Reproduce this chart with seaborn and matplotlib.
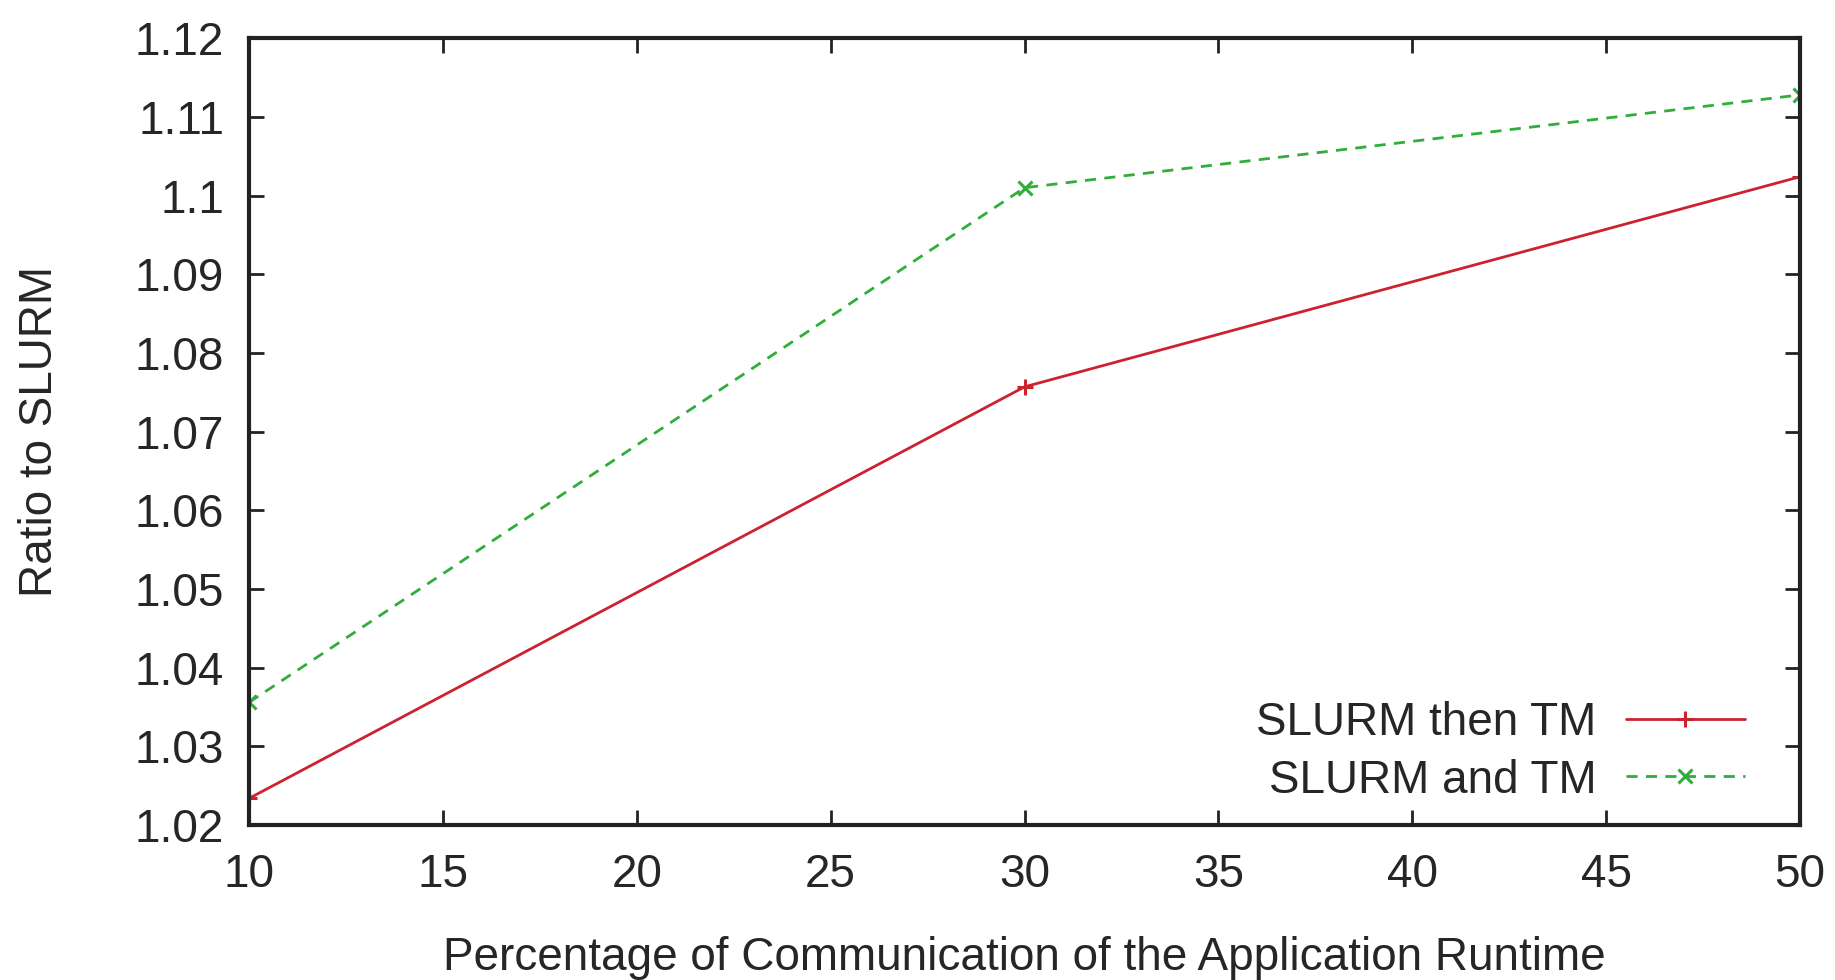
import matplotlib
matplotlib.use("Agg")
import matplotlib.pyplot as plt
import seaborn as sns
import numpy as np
import pandas as pd
from matplotlib.ticker import FuncFormatter

# Data
percent_comm = [10, 30, 50]
slurm_then_tm = [1.0234, 1.0757, 1.1024]
slurm_and_tm = [1.0356, 1.1010, 1.1128]
series_names = ["SLURM then TM", "SLURM and TM"]
x_ticks = [10, 15, 20, 25, 30, 35, 40, 45, 50]
y_ticks = [1.02, 1.03, 1.04, 1.05, 1.06, 1.07, 1.08, 1.09, 1.10, 1.11, 1.12]
x_label = "Percentage of Communication of the Application Runtime"
y_label = "Ratio to SLURM"

sns.set_style("ticks")
plt.rcParams["font.family"] = ["Liberation Sans", "DejaVu Sans"]

fig = plt.figure(figsize=(18.35, 9.8), dpi=100)
ax = fig.add_axes([0.1357, 0.158, 0.981 - 0.1357, 0.961 - 0.158])

sns.lineplot(x=percent_comm, y=slurm_then_tm, color="#cc2230", linewidth=2.0,
             marker="+", markersize=11, markeredgewidth=2.2, markeredgecolor="#cc2230",
             linestyle="-", label=series_names[0], ax=ax)
sns.lineplot(x=percent_comm, y=slurm_and_tm, color="#2fae3a", linewidth=2.0,
             marker="x", markersize=10, markeredgewidth=2.2, markeredgecolor="#2fae3a",
             linestyle=(0, (4, 3)), label=series_names[1], ax=ax)

ax.set_xlim(10, 50)
ax.set_ylim(1.02, 1.12)
ax.set_xticks(x_ticks)
ax.set_yticks(y_ticks)
ax.yaxis.set_major_formatter(FuncFormatter(lambda v, p: f"{round(v, 4):g}"))

for s in ax.spines.values():
    s.set_linewidth(3)
    s.set_color("#222222")
    s.set_visible(True)

ax.tick_params(axis="both", which="major", direction="in", length=11, width=2,
               labelsize=33, color="#222222", top=True, right=True)
ax.tick_params(axis="x", pad=20)
ax.tick_params(axis="y", pad=18)

ax.set_xlabel(x_label, fontsize=33, labelpad=28)
ax.set_ylabel(y_label, fontsize=33, labelpad=52)

leg = ax.legend(loc="lower right", frameon=False, markerfirst=False,
                fontsize=33, handlelength=2.6, handletextpad=0.64,
                labelspacing=0.3, borderaxespad=0.3, bbox_to_anchor=(0.985, -0.012))
for col in leg._legend_handle_box.get_children():
    col.align = "right"

fig.savefig("out.png", dpi=100)
